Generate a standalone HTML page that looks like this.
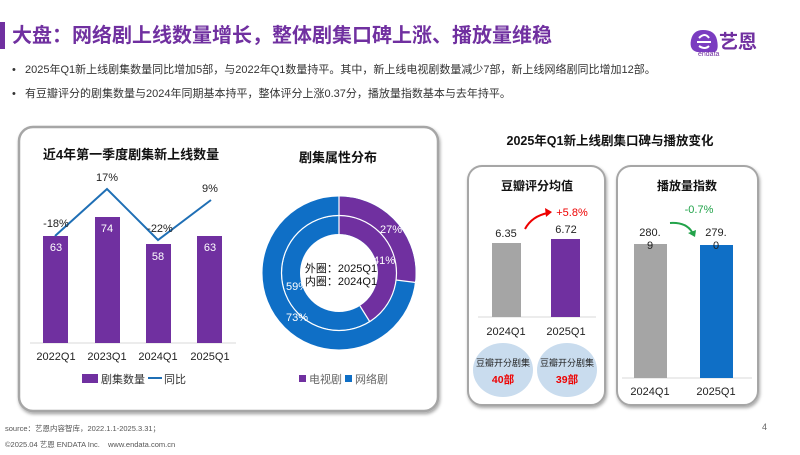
<!DOCTYPE html>
<html><head><meta charset="utf-8"><style>
body{margin:0;width:800px;height:450px;background:#fff;overflow:hidden;font-family:"Liberation Sans","Noto Sans CJK SC",sans-serif;}
svg text{font-family:"Liberation Sans","Noto Sans CJK SC",sans-serif;}
</style></head><body>
<svg width="800" height="450" viewBox="0 0 800 450" xmlns="http://www.w3.org/2000/svg">
<defs>
<filter id="sh" x="-5%" y="-5%" width="110%" height="110%"><feDropShadow dx="1" dy="2" stdDeviation="1.5" flood-color="#000" flood-opacity="0.35"/></filter>
</defs>
<!-- header -->
<rect x="0" y="22" width="5" height="27" fill="#7030A0"/>
<text x="12" y="42" font-size="20" font-weight="bold" fill="#7030A0">大盘：网络剧上线数量增长，整体剧集口碑上涨、播放量维稳</text>
<!-- logo -->
<path d="M703 30 q-10 0 -12 10 q-2 10 6 12 l18 0 q4 -2 2 -12 q-2 -10 -14 -10z" fill="#7a3cc0"/>
<path d="M697 42 h14 M699 38 q6 -6 10 0 M699 46 q6 4 10 0" stroke="#fff" stroke-width="2" fill="none"/>
<text x="719" y="48" font-size="19" font-weight="bold" fill="#7030A0">艺恩</text>
<text x="698" y="56" font-size="7" fill="#7030A0">endata</text>
<!-- bullets -->
<g font-size="11" fill="#333">
<text x="12" y="73">•</text><text x="25" y="73">2025年Q1新上线剧集数量同比增加5部，与2022年Q1数量持平。其中，新上线电视剧数量减少7部，新上线网络剧同比增加12部。</text>
<text x="12" y="97">•</text><text x="25" y="97">有豆瓣评分的剧集数量与2024年同期基本持平，整体评分上涨0.37分，播放量指数基本与去年持平。</text>
</g>
<!-- left panel -->
<rect x="19" y="127" width="419" height="284" rx="14" fill="#fff" stroke="#a6a6a6" stroke-width="2.5" filter="url(#sh)"/>
<text x="131" y="159" font-size="13" font-weight="bold" text-anchor="middle" fill="#111">近4年第一季度剧集新上线数量</text>
<line x1="30" y1="343" x2="236" y2="343" stroke="#d9d9d9"/>
<g fill="#7030A0">
<rect x="43" y="236" width="25" height="107"/>
<rect x="95" y="217" width="25" height="126"/>
<rect x="146" y="244" width="25" height="99"/>
<rect x="197" y="236" width="25" height="107"/>
</g>
<g font-size="11" fill="#fff" text-anchor="middle">
<text x="56" y="251">63</text><text x="107" y="232">74</text><text x="158" y="260">58</text><text x="210" y="251">63</text>
</g>
<polyline points="55,236 107,189 158,240 211,200" fill="none" stroke="#1f6fb5" stroke-width="2"/>
<g font-size="11" fill="#222" text-anchor="middle">
<text x="56" y="227">-18%</text><text x="107" y="181">17%</text><text x="160" y="232">-22%</text><text x="210" y="192">9%</text>
</g>
<g font-size="11" fill="#222" text-anchor="middle">
<text x="56" y="360">2022Q1</text><text x="107" y="360">2023Q1</text><text x="158" y="360">2024Q1</text><text x="210" y="360">2025Q1</text>
</g>
<rect x="82" y="374" width="16" height="9" fill="#7030A0"/>
<text x="101" y="383" font-size="11" fill="#333">剧集数量</text>
<line x1="148" y1="378" x2="162" y2="378" stroke="#1f6fb5" stroke-width="2"/>
<text x="164" y="383" font-size="11" fill="#333">同比</text>
<!-- donut -->
<text x="338" y="162" font-size="13" font-weight="bold" text-anchor="middle" fill="#111">剧集属性分布</text>
<g transform="rotate(-90 339 273)">
<circle cx="339" cy="273" r="67" fill="none" stroke="#0f6fc6" stroke-width="19"/>
<circle cx="339" cy="273" r="67" fill="none" stroke="#7030A0" stroke-width="19" stroke-dasharray="113.7 500"/>
<circle cx="339" cy="273" r="48" fill="none" stroke="#0f6fc6" stroke-width="18"/>
<circle cx="339" cy="273" r="48" fill="none" stroke="#7030A0" stroke-width="18" stroke-dasharray="123.6 500"/>
</g>
<circle cx="339" cy="273" r="57.5" fill="none" stroke="#fff" stroke-width="1.2"/>
<line x1="339" y1="196" x2="339" y2="234" stroke="#fff" stroke-width="1.2"/>
<line x1="396" y1="280" x2="416" y2="282.5" stroke="#fff" stroke-width="1.2"/>
<line x1="360" y1="306" x2="370" y2="322" stroke="#fff" stroke-width="1.2"/>
<g font-size="11" fill="#fff" text-anchor="middle">
<text x="391" y="233">27%</text><text x="384" y="264">41%</text><text x="297" y="290">59%</text><text x="297" y="321">73%</text>
</g>
<text x="341" y="272" font-size="11" fill="#111" text-anchor="middle">外圈：2025Q1</text>
<text x="341" y="285" font-size="11" fill="#111" text-anchor="middle">内圈：2024Q1</text>
<rect x="299" y="375" width="7" height="7" fill="#7030A0"/>
<text x="309" y="383" font-size="11" fill="#666">电视剧</text>
<rect x="345" y="375" width="7" height="7" fill="#0f6fc6"/>
<text x="355" y="383" font-size="11" fill="#666">网络剧</text>
<!-- right -->
<text x="610" y="145" font-size="12.5" font-weight="bold" text-anchor="middle" fill="#111">2025年Q1新上线剧集口碑与播放变化</text>
<rect x="468" y="166" width="137" height="239" rx="14" fill="#fff" stroke="#a6a6a6" stroke-width="2" filter="url(#sh)"/>
<rect x="617" y="166" width="141" height="239" rx="14" fill="#fff" stroke="#a6a6a6" stroke-width="2" filter="url(#sh)"/>
<text x="537" y="190" font-size="12" font-weight="bold" text-anchor="middle" fill="#111">豆瓣评分均值</text>
<line x1="478" y1="317" x2="596" y2="317" stroke="#d9d9d9"/>
<rect x="492" y="243" width="29" height="74" fill="#a5a5a5"/>
<rect x="551" y="239" width="29" height="78" fill="#7030A0"/>
<text x="506" y="237" font-size="11" text-anchor="middle" fill="#222">6.35</text>
<text x="566" y="233" font-size="11" text-anchor="middle" fill="#222">6.72</text>
<text x="572" y="216" font-size="11" text-anchor="middle" fill="#e00">+5.8%</text>
<path d="M525 229 Q532 216 548 213" fill="none" stroke="#e00" stroke-width="2"/>
<path d="M552 212 l-7 -4 l1 9z" fill="#e00"/>
<text x="506" y="335" font-size="11" text-anchor="middle" fill="#222">2024Q1</text>
<text x="566" y="335" font-size="11" text-anchor="middle" fill="#222">2025Q1</text>
<ellipse cx="503" cy="370" rx="30" ry="27" fill="#c9dcee"/>
<ellipse cx="567" cy="370" rx="30" ry="27" fill="#c9dcee"/>
<text x="503" y="366" font-size="9" text-anchor="middle" fill="#222">豆瓣开分剧集</text>
<text x="567" y="366" font-size="9" text-anchor="middle" fill="#222">豆瓣开分剧集</text>
<text x="503" y="383" font-size="10.5" font-weight="bold" text-anchor="middle" fill="#e00">40部</text>
<text x="567" y="383" font-size="10.5" font-weight="bold" text-anchor="middle" fill="#e00">39部</text>
<text x="687" y="190" font-size="12" font-weight="bold" text-anchor="middle" fill="#111">播放量指数</text>
<line x1="622" y1="378" x2="752" y2="378" stroke="#d9d9d9"/>
<rect x="634" y="244" width="33" height="134" fill="#a5a5a5"/>
<rect x="700" y="245" width="33" height="133" fill="#0f6fc6"/>
<g font-size="11" text-anchor="middle" fill="#222">
<text x="650" y="236">280.</text><text x="650" y="249">9</text>
<text x="716" y="236">279.</text><text x="716" y="249">0</text>
<text x="650" y="395">2024Q1</text><text x="716" y="395">2025Q1</text>
</g>
<text x="699" y="213" font-size="11" text-anchor="middle" fill="#22a34a">-0.7%</text>
<path d="M670 223 Q686 222 692 232" fill="none" stroke="#22a34a" stroke-width="2"/>
<path d="M695 237 l-7 -4 l8 -3z" fill="#22a34a"/>
<!-- footer -->
<text x="5" y="431" font-size="7.5" fill="#555">source：艺恩内容智库，2022.1.1-2025.3.31；</text>
<text x="5" y="447" font-size="7.5" fill="#555">©2025.04 艺恩 ENDATA Inc.</text>
<text x="108" y="447" font-size="7.5" fill="#555">www.endata.com.cn</text>
<text x="762" y="430" font-size="9" fill="#666">4</text>
</svg>
</body></html>
